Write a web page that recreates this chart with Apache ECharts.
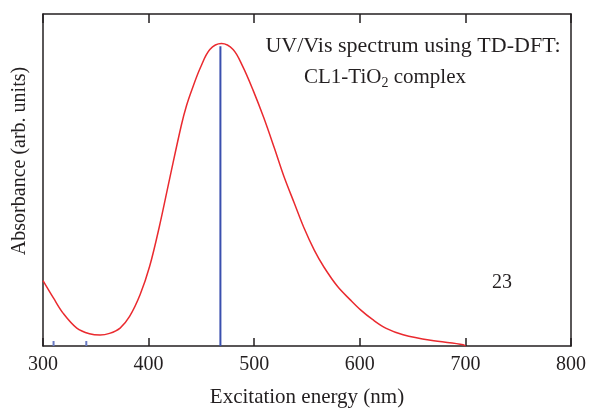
<!DOCTYPE html>
<html><head><meta charset="utf-8">
<script src="https://cdn.jsdelivr.net/npm/echarts@6/dist/echarts.min.js"></script>
<style>html,body{margin:0;padding:0;background:#fff}#c{width:589px;height:413px}</style>
</head><body><div id="c"></div>
<script>
// Spectrum (wavelength nm, absorbance arb. units)
const wavelength = [300,310,319,332,344,354,363,373,382,392,401,410,420,431,436,441,449,458,469,480,489,499,509,519,528,538,547,557,566,579,591,601,612,625,641,667,698,700];
const absorbance = [0.197,0.144,0.099,0.054,0.037,0.033,0.038,0.054,0.089,0.155,0.240,0.357,0.505,0.665,0.725,0.772,0.838,0.893,0.911,0.893,0.843,0.770,0.688,0.597,0.512,0.430,0.357,0.288,0.238,0.179,0.139,0.108,0.080,0.053,0.034,0.017,0.004,0.0];
// Oscillator sticks
const stickPos = [310, 341, 468];
const stickHeight = [0.015, 0.015, 0.903];
const xTicks = [300, 800, 100];
const titleLine1 = 'UV/Vis spectrum using TD-DFT:';
const titleLine2 = 'CL1-TiO{s|2} complex';
const panelLabel = '23';

const FONT = '"Liberation Serif", "DejaVu Serif", serif';
const TXT = '#231f20';
const chart = echarts.init(document.getElementById('c'), null, {renderer:'canvas'});
const axisLineStyle = {color:'#231f20', width:1.5};
chart.setOption({
  animation:false,
  grid:{left:43, right:17, top:14, bottom:63},
  xAxis:[{
    type:'value', min:xTicks[0], max:xTicks[1], interval:xTicks[2], position:'bottom',
    name:'Excitation energy (nm)', nameLocation:'middle', nameGap:41,
    nameTextStyle:{fontFamily:FONT, fontSize:21, color:TXT},
    axisLine:{show:true, onZero:false, lineStyle:axisLineStyle},
    axisTick:{show:true, inside:true, length:8, lineStyle:{color:'#231f20', width:1.5}},
    axisLabel:{fontFamily:FONT, fontSize:20, color:TXT, margin:9},
    splitLine:{show:false}
  },{
    type:'value', min:xTicks[0], max:xTicks[1], interval:xTicks[2], position:'top',
    axisLine:{show:true, onZero:false, lineStyle:axisLineStyle},
    axisTick:{show:true, inside:true, length:9, lineStyle:{color:'#231f20', width:1.5}},
    axisLabel:{show:false}, splitLine:{show:false}
  }],
  yAxis:[{
    type:'value', min:0, max:1, position:'left',
    name:'Absorbance (arb. units)', nameLocation:'middle', nameGap:13,
    nameTextStyle:{fontFamily:FONT, fontSize:20, color:TXT, padding:[0,0,0,38]},
    axisLine:{show:true, onZero:false, lineStyle:axisLineStyle},
    axisTick:{show:false}, axisLabel:{show:false}, splitLine:{show:false}
  },{
    type:'value', min:0, max:1, position:'right',
    axisLine:{show:true, onZero:false, lineStyle:axisLineStyle},
    axisTick:{show:false}, axisLabel:{show:false}, splitLine:{show:false}
  }],
  title:[{
    text:titleLine1, left:408, top:30, textAlign:'center',
    textStyle:{fontFamily:FONT, fontSize:22, fontWeight:'normal', color:TXT}
  },{
    text:titleLine2, left:380, top:59, textAlign:'center',
    textStyle:{fontFamily:FONT, fontSize:21, fontWeight:'normal', color:TXT,
      rich:{s:{fontFamily:FONT, fontSize:14, color:TXT, verticalAlign:'bottom', padding:[12,0,0,0]}}}
  },{
    text:panelLabel, left:497, top:268, textAlign:'center',
    textStyle:{fontFamily:FONT, fontSize:20, fontWeight:'normal', color:TXT}
  }],
  series:[{
    type:'bar', xAxisIndex:0, yAxisIndex:0, barWidth:2, silent:true,
    data:stickPos.map((p,i)=>({value:[p, stickHeight[i]], itemStyle:{color: stickHeight[i] > 0.5 ? '#3a4fae' : '#6a7bc4'}})),
    z:2
  },{
    type:'line', xAxisIndex:0, yAxisIndex:0, smooth:0.35, showSymbol:false, silent:true,
    lineStyle:{color:'#ea2a2f', width:1.5},
    data:wavelength.map((w,i)=>[w, absorbance[i]]), z:3
  }]
});
</script></body></html>
